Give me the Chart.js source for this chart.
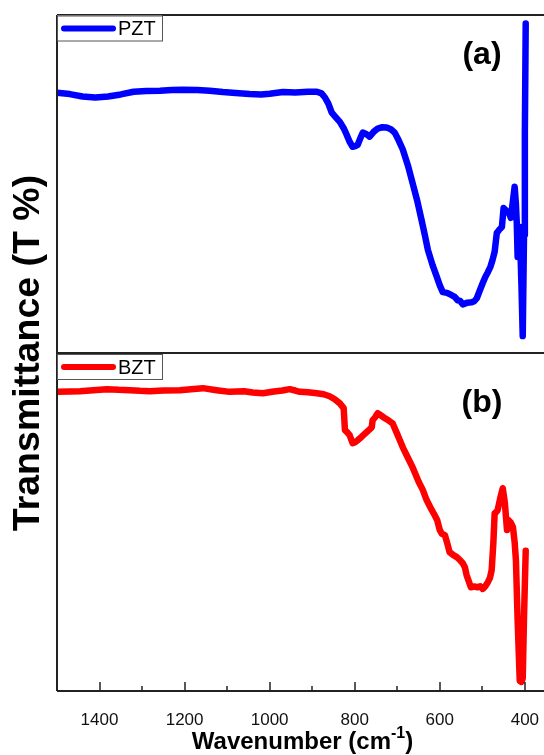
<!DOCTYPE html>
<html>
<head>
<meta charset="utf-8">
<script src="https://cdn.jsdelivr.net/npm/chart.js@4/dist/chart.umd.min.js"></script>
<style>
  html, body { margin: 0; padding: 0; background: #fff; }
  #wrap { width: 544px; height: 755px; position: relative; }
</style>
</head>
<body>
<div id="wrap"><canvas id="c" width="544" height="755"></canvas></div>
<script>
// ---- data ----
const seriesNames = ['PZT', 'BZT'];
const panelLabels = ['(a)', '(b)'];
const majorTicks = [1400, 1200, 1000, 800, 600, 400];
const minorTicks = [1300, 1100, 900, 700, 500];

const pztWavenumber = [1500,1470,1440,1410,1380,1350,1320,1290,1258,1230,1204,1170,1141,1110,1080,1047,1020,1000,969,940,910,889,878,870,862,854,845,835,826,819,812,805,799,793,787,781,773,765,755,746,735,725,715,706,697,687,675,664,653,643,635,628,617,607,600,593,583,572,565,558,552,546,535,525,519,513,506,499,493,487,481,476,471,466,460,454,450,445,440,436,433,428,424,421,419,417,415,412,408,405,402,400,398];
const pztT = [77.0,76.6,75.9,75.6,75.9,76.5,77.3,77.5,77.6,77.8,77.9,77.8,77.6,77.2,76.9,76.6,76.5,76.7,77.2,77.1,77.3,77.3,76.8,75.6,73.8,71.1,69.8,68.4,66.5,64.6,62.5,61.0,61.2,61.6,63.5,65.2,64.8,64.0,65.5,66.4,66.8,66.7,66.2,65.2,63.0,60.2,55.5,50.3,45.0,39.4,34.8,30.5,26.0,22.5,20.0,18.0,17.8,17.1,16.6,15.6,15.4,14.4,14.9,15.0,15.3,16.2,18.5,20.7,22.5,23.9,25.5,27.5,30.0,35.5,36.5,37.3,42.9,42.3,41.7,41.0,40.0,45.0,49.2,44.0,38.5,28.4,34.0,37.3,20.0,5.0,35.0,65.0,97.5];

const bztWavenumber = [1500,1470,1446,1415,1383,1355,1329,1305,1282,1250,1211,1185,1157,1125,1094,1060,1040,1016,990,970,953,940,929,910,889,873,859,847,835,826,823,818,812,805,799,793,783,772,765,760,758,752,746,738,729,720,711,700,687,675,664,650,640,631,620,612,606,600,595,588,582,577,568,560,553,546,541,537,532,527,519,511,505,499,493,487,482,478,474,471,467,464,458,452,447,442,438,433,428,424,421,417,414,412,408,405,402,398];
const bztT = [88.5,88.6,88.7,89.0,89.3,89.1,89.0,88.8,88.7,88.9,89.0,89.3,89.6,89.0,88.5,88.7,88.3,88.1,88.6,88.9,89.3,88.9,88.5,88.4,88.1,87.8,87.2,86.3,85.1,83.7,77.2,76.6,75.7,73.3,73.6,74.2,75.3,76.6,77.4,78.0,80.1,81.0,82.2,81.5,80.7,80.0,79.2,76.0,72.1,69.0,66.2,62.0,59.5,56.5,53.8,52.0,50.5,47.6,46.5,46.1,43.5,41.1,40.2,39.6,38.8,37.8,36.6,34.3,32.5,30.7,30.9,30.7,31.0,30.2,31.0,32.2,33.5,35.8,44.0,52.6,53.0,53.5,57.0,60.0,55.6,47.6,50.5,49.8,48.5,44.0,38.7,21.0,10.0,3.0,2.7,3.8,22.0,41.5];

const colors = ['#0000ff', '#ff0000'];
const FONT = '"Liberation Sans", Arial, sans-serif';

function toXY(xs, ys) { return xs.map((x, i) => ({ x: x, y: ys[i] })); }

const framePlugin = {
  id: 'frame',
  afterDraw(chart) {
    const ctx = chart.ctx;
    const a = chart.chartArea;
    const xs = chart.scales.x;
    const yTop = chart.scales.yA;
    const mid = yTop.bottom;
    ctx.save();
    // frame lines
    ctx.strokeStyle = '#222';
    ctx.lineWidth = 2;
    ctx.beginPath();
    ctx.moveTo(a.left, a.top); ctx.lineTo(a.right, a.top);
    ctx.moveTo(a.left, mid); ctx.lineTo(a.right, mid);
    ctx.moveTo(a.left, a.bottom); ctx.lineTo(a.right, a.bottom);
    ctx.moveTo(a.left, a.top); ctx.lineTo(a.left, a.bottom);
    ctx.stroke();
    // inward ticks
    ctx.lineWidth = 1.5;
    ctx.beginPath();
    majorTicks.forEach(v => { const px = Math.round(xs.getPixelForValue(v)); ctx.moveTo(px, a.bottom); ctx.lineTo(px, a.bottom - 9); });
    minorTicks.forEach(v => { const px = Math.round(xs.getPixelForValue(v)); ctx.moveTo(px, a.bottom); ctx.lineTo(px, a.bottom - 5); });
    ctx.stroke();

    // legends
    const boxes = [{ top: a.top + 0.5, name: seriesNames[0], color: colors[0] },
                   { top: mid + 1, name: seriesNames[1], color: colors[1] }];
    boxes.forEach(b => {
      ctx.fillStyle = '#fff';
      ctx.fillRect(a.left, b.top, 105, 25);
      ctx.strokeStyle = '#555';
      ctx.lineWidth = 1;
      ctx.strokeRect(a.left + 0.5, b.top + 0.5, 105, 25);
      ctx.strokeStyle = b.color;
      ctx.lineWidth = 6;
      ctx.lineCap = 'round';
      ctx.beginPath();
      ctx.moveTo(a.left + 7, b.top + 13);
      ctx.lineTo(a.left + 56, b.top + 13);
      ctx.stroke();
      ctx.fillStyle = '#000';
      ctx.font = '20px ' + FONT;
      ctx.textBaseline = 'middle';
      ctx.textAlign = 'left';
      ctx.fillText(b.name, a.left + 61, b.top + 14);
    });

    // panel labels
    ctx.font = 'bold 32px ' + FONT;
    ctx.textAlign = 'center';
    ctx.textBaseline = 'middle';
    ctx.fillStyle = '#000';
    ctx.fillText(panelLabels[0], 482, a.top + 40);
    ctx.fillText(panelLabels[1], 482, mid + 50);

    // y title
    ctx.save();
    ctx.translate(29, (a.top + a.bottom) / 2);
    ctx.rotate(-Math.PI / 2);
    ctx.font = 'bold 37.5px ' + FONT;
    ctx.textAlign = 'center';
    ctx.textBaseline = 'middle';
    ctx.fillText('Transmittance (T %)', 0, 0);
    ctx.restore();

    // x title with superscript
    const t1 = 'Wavenumber (cm', sup = '-1', t2 = ')';
    const big = 'bold 24px ' + FONT, small = 'bold 16px ' + FONT;
    ctx.font = big; const w1 = ctx.measureText(t1).width, w3 = ctx.measureText(t2).width;
    ctx.font = small; const w2 = ctx.measureText(sup).width;
    const total = w1 + w2 + w3;
    let x0 = (a.left + a.right) / 2 - total / 2 + 2;
    const base = 749;
    ctx.textAlign = 'left';
    ctx.textBaseline = 'alphabetic';
    ctx.font = big; ctx.fillText(t1, x0, base);
    ctx.font = small; ctx.fillText(sup, x0 + w1, base - 11);
    ctx.font = big; ctx.fillText(t2, x0 + w1 + w2, base);
    ctx.restore();
  }
};

const hiddenY = (min, max) => ({
  type: 'linear', position: 'left', stack: 'panels', stackWeight: 1,
  min: min, max: max,
  display: true,
  ticks: { display: false },
  grid: { display: false, drawTicks: false },
  border: { display: false },
  afterFit(s) { s.width = 0; s.paddingTop = 0; s.paddingBottom = 0; }
});

new Chart(document.getElementById('c'), {
  type: 'line',
  data: {
    datasets: [
      { label: seriesNames[0], data: toXY(pztWavenumber, pztT), yAxisID: 'yA', borderColor: colors[0], backgroundColor: colors[0] },
      { label: seriesNames[1], data: toXY(bztWavenumber, bztT), yAxisID: 'yB', borderColor: colors[1], backgroundColor: colors[1] }
    ]
  },
  options: {
    responsive: false,
    animation: false,
    devicePixelRatio: 1,
    layout: { padding: { top: 15, left: 57, right: 0, bottom: 0 } },
    elements: {
      line: { borderWidth: 6.5, tension: 0, borderJoinStyle: 'round', borderCapStyle: 'round' },
      point: { radius: 0 }
    },
    plugins: { legend: { display: false }, tooltip: { enabled: false } },
    scales: {
      x: {
        type: 'linear', reverse: true, min: 355, max: 1500,
        afterBuildTicks(s) { s.ticks = majorTicks.concat(minorTicks).sort((p, q) => q - p).map(v => ({ value: v })); },
        afterFit(s) { s.height = 64; s.paddingLeft = 0; s.paddingRight = 0; },
        ticks: {
          autoSkip: false, maxRotation: 0, padding: 19,
          color: '#111', font: { family: FONT, size: 17 },
          callback: (v) => majorTicks.includes(v) ? String(v) : ''
        },
        grid: { display: false, drawTicks: false },
        border: { display: false }
      },
      yB: hiddenY(0, 100),
      yA: hiddenY(0, 100)
    }
  },
  plugins: [framePlugin]
});
</script>
</body>
</html>
